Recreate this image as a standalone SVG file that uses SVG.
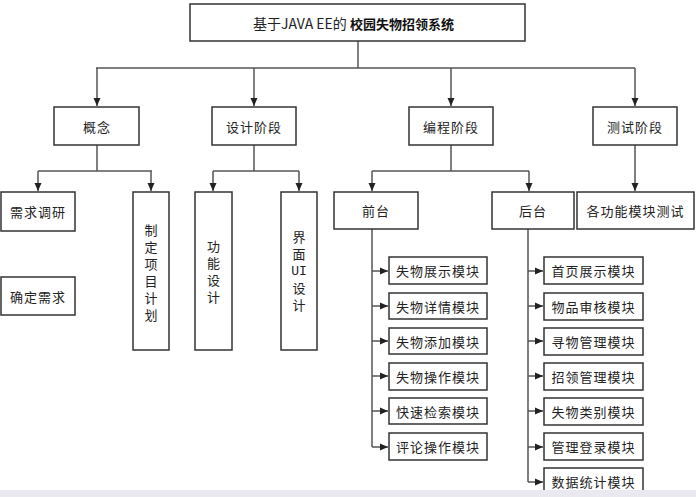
<svg xmlns="http://www.w3.org/2000/svg" width="696" height="497" viewBox="0 0 696 497">
<defs>
<marker id="ah" viewBox="0 0 8 8" refX="8" refY="4" markerWidth="8" markerHeight="8" markerUnits="userSpaceOnUse" orient="auto">
<path d="M0,0.5 L8,4 L0,7.5 Z" fill="#222"/>
</marker>
<style>
.box{fill:#fff;stroke:#333;stroke-width:1.5}
.ln{fill:none;stroke:#555;stroke-width:1.5}
.ar{fill:none;stroke:#555;stroke-width:1.5;marker-end:url(#ah)}
.t{font-family:"Noto Sans CJK SC","Noto Sans",sans-serif;font-size:13px;fill:#222;text-anchor:middle;dominant-baseline:central;letter-spacing:1px}
.v{font-family:"Noto Sans CJK SC","Noto Sans",sans-serif;font-size:13px;fill:#222;writing-mode:vertical-rl;text-orientation:upright;letter-spacing:4px}
.tb{font-family:"Noto Sans CJK SC",serif;font-size:13px;font-weight:bold;fill:#111}
</style>
</defs>
<rect width="696" height="497" fill="#fff"/>
<g id="connectors">
<path class="ln" d="M358,41 V68 M96,68 H635"/>
<path class="ar" d="M97,68 V106"/>
<path class="ar" d="M254,68 V106"/>
<path class="ar" d="M451,68 V106"/>
<path class="ar" d="M635,68 V106"/>
<path class="ln" d="M97,145 V171 M38,171 H152"/>
<path class="ar" d="M38,171 V191"/>
<path class="ar" d="M151,171 V191"/>
<path class="ln" d="M254,145 V171 M213,171 H299"/>
<path class="ar" d="M213,171 V191"/>
<path class="ar" d="M299,171 V191"/>
<path class="ln" d="M451,145 V171 M372,171 H529"/>
<path class="ar" d="M372,171 V191"/>
<path class="ar" d="M529,171 V191"/>
<path class="ar" d="M635,145 V191"/>
<path class="ln" d="M372,229 V447"/>
<path class="ar" d="M372,271 H388"/>
<path class="ar" d="M372,306 H388"/>
<path class="ar" d="M372,341 H388"/>
<path class="ar" d="M372,376 H388"/>
<path class="ar" d="M372,411 H388"/>
<path class="ar" d="M372,447 H388"/>
<path class="ln" d="M528,229 V482"/>
<path class="ar" d="M528,271 H543"/>
<path class="ar" d="M528,306 H543"/>
<path class="ar" d="M528,341 H543"/>
<path class="ar" d="M528,376 H543"/>
<path class="ar" d="M528,411 H543"/>
<path class="ar" d="M528,447 H543"/>
<path class="ar" d="M528,482 H543"/>
</g>
<g id="title">
<rect class="box" x="190" y="4" width="335" height="37"/>
<text x="253" y="22.5" dominant-baseline="central" style="font-family:'Noto Sans CJK SC','Noto Sans',sans-serif;font-size:14px;fill:#222">基于JAVA EE的 <tspan class="tb">校园失物招领系统</tspan></text>
</g>
<g id="gainian"><rect class="box" x="54" y="107" width="85" height="38"/><text class="t" x="97" y="126">概念</text></g>
<g id="sheji"><rect class="box" x="212" y="107" width="84" height="38"/><text class="t" x="254" y="126">设计阶段</text></g>
<g id="biancheng"><rect class="box" x="409" y="107" width="84" height="38"/><text class="t" x="451" y="126">编程阶段</text></g>
<g id="ceshi"><rect class="box" x="593" y="107" width="84" height="38"/><text class="t" x="635" y="126">测试阶段</text></g>
<g id="xuqiudiaoyan"><rect class="box" x="1" y="192" width="74" height="39"/><text class="t" x="38" y="211.5">需求调研</text></g>
<g id="quedingxuqiu"><rect class="box" x="1" y="277" width="74" height="38"/><text class="t" x="38" y="296">确定需求</text></g>
<g id="zhiding"><rect class="box" x="133" y="192" width="36" height="158"/>
<text class="v" x="151" y="223.5">制定项目计划</text></g>
<g id="gongneng"><rect class="box" x="195" y="192" width="37" height="158"/>
<text class="v" x="213.5" y="239.5">功能设计</text></g>
<g id="jiemian"><rect class="box" x="281" y="192" width="36" height="158"/>
<text class="v" x="299" y="230.5">界面</text>
<text class="t" x="299" y="271" style="font-family:'Liberation Mono',monospace;letter-spacing:0">UI</text>
<text class="v" x="299" y="281.5">设计</text></g>
<g id="qiantai"><rect class="box" x="334" y="192" width="84" height="37"/><text class="t" x="376" y="210.5">前台</text></g>
<g id="houtai"><rect class="box" x="492" y="192" width="82" height="37"/><text class="t" x="533" y="210.5">后台</text></g>
<g id="gegongneng"><rect class="box" x="577" y="192" width="117" height="37"/><text class="t" x="635.5" y="210.5">各功能模块测试</text></g>
<g id="f1"><rect class="box" x="389" y="257" width="98" height="27"/><text class="t" x="438" y="270.5">失物展示模块</text></g>
<g id="f2"><rect class="box" x="389" y="293" width="98" height="26"/><text class="t" x="438" y="306">失物详情模块</text></g>
<g id="f3"><rect class="box" x="389" y="328" width="98" height="26"/><text class="t" x="438" y="341">失物添加模块</text></g>
<g id="f4"><rect class="box" x="389" y="363" width="98" height="27"/><text class="t" x="438" y="376.5">失物操作模块</text></g>
<g id="f5"><rect class="box" x="389" y="398" width="98" height="26"/><text class="t" x="438" y="411">快速检索模块</text></g>
<g id="f6"><rect class="box" x="389" y="433" width="98" height="27"/><text class="t" x="438" y="446.5">评论操作模块</text></g>
<g id="b1"><rect class="box" x="544" y="257" width="99" height="27"/><text class="t" x="593.5" y="270.5">首页展示模块</text></g>
<g id="b2"><rect class="box" x="544" y="293" width="99" height="27"/><text class="t" x="593.5" y="306.5">物品审核模块</text></g>
<g id="b3"><rect class="box" x="544" y="328" width="99" height="27"/><text class="t" x="593.5" y="341.5">寻物管理模块</text></g>
<g id="b4"><rect class="box" x="544" y="363" width="99" height="27"/><text class="t" x="593.5" y="376.5">招领管理模块</text></g>
<g id="b5"><rect class="box" x="544" y="398" width="99" height="27"/><text class="t" x="593.5" y="411.5">失物类别模块</text></g>
<g id="b6"><rect class="box" x="544" y="433" width="99" height="27"/><text class="t" x="593.5" y="446.5">管理登录模块</text></g>
<g id="b7"><rect class="box" x="544" y="468" width="99" height="30"/><text class="t" x="593.5" y="481.5">数据统计模块</text></g>
<rect x="0" y="490" width="696" height="7" fill="#e9e9ef"/>
</svg>
